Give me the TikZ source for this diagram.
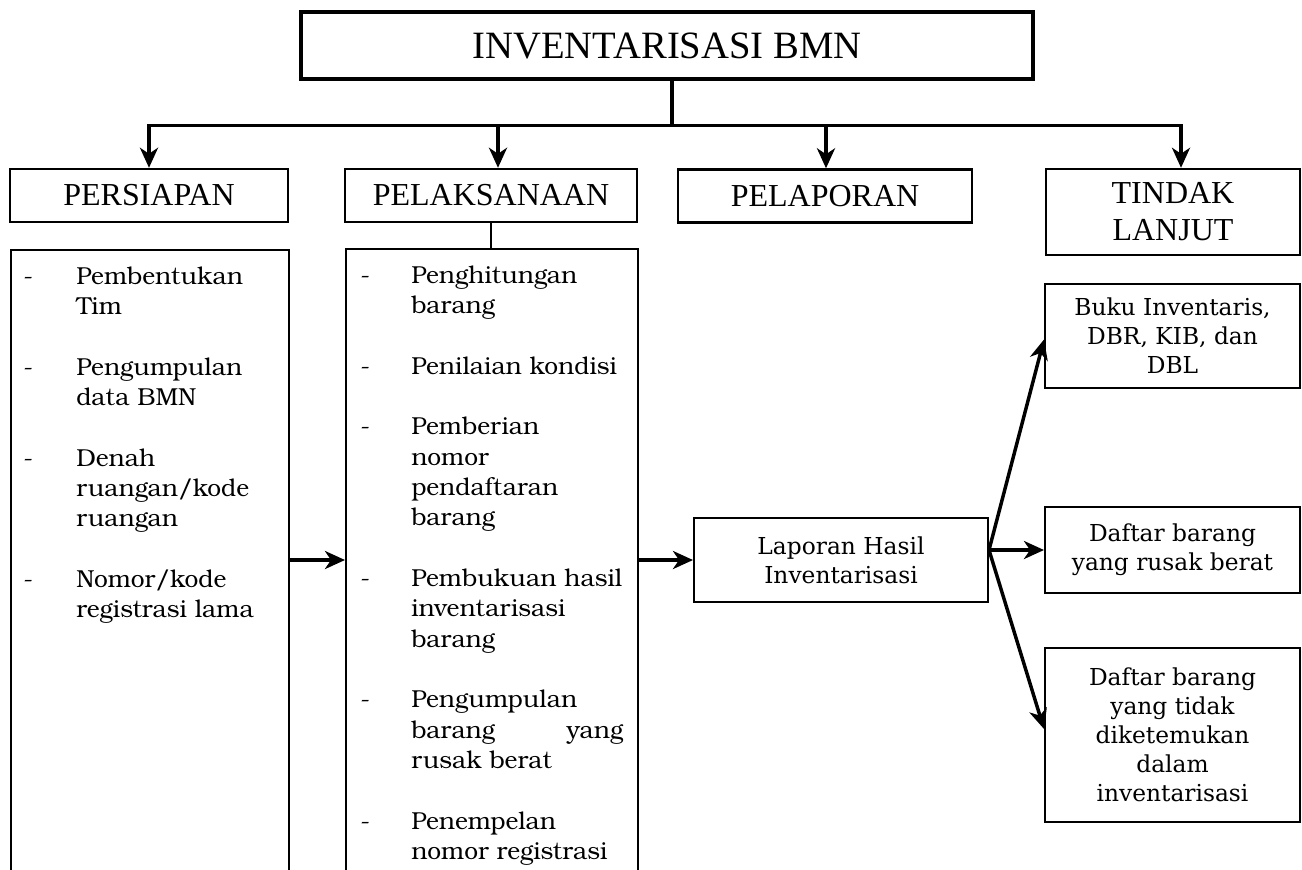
\documentclass[tikz,border=0pt]{standalone}
\usepackage{fontspec}
\newfontfamily\listfont{TeX Gyre Bonum}
\newfontfamily\headfont{Liberation Serif}
\newfontfamily\boxfont{DejaVu Serif}
\usetikzlibrary{arrows.meta,calc}

% list lines: a dash in a fixed-width slot, continuation lines indented by the same slot
\newcommand{\persdash}[1]{\makebox[39.75pt][l]{-}#1}
\newcommand{\perscont}[1]{\hspace*{39.75pt}#1}
\newcommand{\pelkdash}[1]{\makebox[38.25pt][l]{-}#1}
\newcommand{\pelkcont}[1]{\hspace*{38.25pt}#1}
\newcommand{\gapline}{\\[22.75pt]}

\begin{document}
\begin{tikzpicture}[x=0.75pt,y=-0.75pt,
  titlebox/.style={draw, line width=2.6pt, minimum width=732*0.75pt, minimum height=67*0.75pt,
    inner sep=0pt, font=\headfont\fontsize{29}{32}\selectfont},
  phase/.style={draw, line width=1.8pt, minimum height=53*0.75pt, inner sep=0pt, align=center,
    font=\headfont\fontsize{24}{27.75}\selectfont},
  listbox/.style={draw, line width=1.5pt, anchor=north west, minimum height=700*0.75pt, inner sep=0pt},
  listtext/.style={anchor=north west, inner sep=0pt, align=left,
    font=\listfont\fontsize{18.4}{22.75}\selectfont},
  outbox/.style={draw, line width=1.5pt, inner sep=0pt, align=center, minimum width=255*0.75pt,
    font=\boxfont\fontsize{17.5}{21.75}\selectfont},
  link/.style={line width=2.6pt},
  arr/.style={line width=2.6pt, -{Stealth[length=15pt,width=13.5pt,inset=4.5pt]}},
]
\useasboundingbox (0,0) rectangle (1302,869);
\clip (0,0) rectangle (1302,869);

% title
\node[titlebox] (top) at (667,45.5) {INVENTARISASI BMN};

% phase headers
\node[phase, minimum width=278*0.75pt] (hPers) at (149,195.5) {PERSIAPAN};
\node[phase, minimum width=292*0.75pt] (hPel) at (491,195.5) {PELAKSANAAN};
\node[phase, minimum width=294*0.75pt] (hLap) at (825,196) {PELAPORAN};
\node[phase, minimum width=254*0.75pt, minimum height=86*0.75pt] (hTL) at (1173,212) {TINDAK\\LANJUT};

% tree from the title down to the headers
\draw[link] ([xshift=5*0.75pt]top.south) -- ++(0,45) coordinate (bus);
\coordinate (aPers) at (hPers.north);
\coordinate (aPel) at ([xshift=7*0.75pt]hPel.north);
\coordinate (aLap) at ([xshift=1*0.75pt]hLap.north);
\coordinate (aTL) at ([xshift=8*0.75pt]hTL.north);
\draw[link, line cap=rect] (bus -| aPers) -- (bus -| aTL);
\draw[arr] (bus -| aPers) -- (aPers);
\draw[arr] (bus -| aPel) -- (aPel);
\draw[arr] (bus -| aLap) -- (aLap);
\draw[arr] (bus -| aTL) -- (aTL);

% list boxes (they run past the lower edge)
\node[listbox, minimum width=278*0.75pt] (lPers) at (10,249) {};
\node[listbox, minimum width=292*0.75pt] (lPel) at (345,248) {};
\draw[line width=0.8pt] (hPel.south) -- (hPel.south |- lPel.north);

\node[listtext] (tPers) at ([xshift=13*0.75pt,yshift=-13.5*0.75pt]lPers.north west)
  {\strut\persdash{Pembentukan}\\
   \perscont{Tim}\gapline
   \persdash{Pengumpulan}\\
   \perscont{data BMN}\gapline
   \persdash{Denah}\\
   \perscont{ruangan/kode}\\
   \perscont{ruangan}\gapline
   \persdash{Nomor/kode}\\
   \perscont{registrasi lama}};

\node[listtext] (tPel) at ([xshift=15*0.75pt,yshift=-13.5*0.75pt]lPel.north west)
  {\strut\pelkdash{Penghitungan}\\
   \pelkcont{barang}\gapline
   \pelkdash{Penilaian kondisi}\gapline
   \pelkdash{Pemberian}\\
   \pelkcont{nomor}\\
   \pelkcont{pendaftaran}\\
   \pelkcont{barang}\gapline
   \pelkdash{Pembukuan hasil}\\
   \pelkcont{inventarisasi}\\
   \pelkcont{barang}\gapline
   \pelkdash{Pengumpulan}\\
   \pelkcont{\makebox[159pt][s]{barang yang}}\\
   \pelkcont{rusak berat}\gapline
   \pelkdash{Penempelan}\\
   \pelkcont{nomor registrasi}};

% report and follow-up boxes
\node[outbox, minimum width=294*0.75pt, minimum height=84*0.75pt] (lap) at (841,560)
  {Laporan Hasil\\Inventarisasi};
\node[outbox, minimum height=104*0.75pt] (buku) at (1172.5,335.5)
  {Buku Inventaris,\\DBR, KIB, dan\\DBL};
\node[outbox, minimum height=86*0.75pt] (rusak) at (1172.5,550)
  {Daftar barang\\yang rusak berat};
\node[outbox, minimum height=174*0.75pt] (tidak) at (1172.5,735)
  {Daftar barang\\yang tidak\\diketemukan\\dalam\\inventarisasi};

% flow arrows
\draw[arr] (lPers.east |- lap.west) -- (lPel.west |- lap.west);
\draw[arr] (lPel.east |- lap.west) -- (lap.west);
\coordinate (fan) at ([yshift=10*0.75pt]lap.east);
\draw[arr] (fan) -- ([yshift=-4*0.75pt]buku.west);
\draw[arr] (fan) -- (rusak.west);
\draw[arr] (fan) -- ([yshift=6*0.75pt]tidak.west);
\end{tikzpicture}
\end{document}
